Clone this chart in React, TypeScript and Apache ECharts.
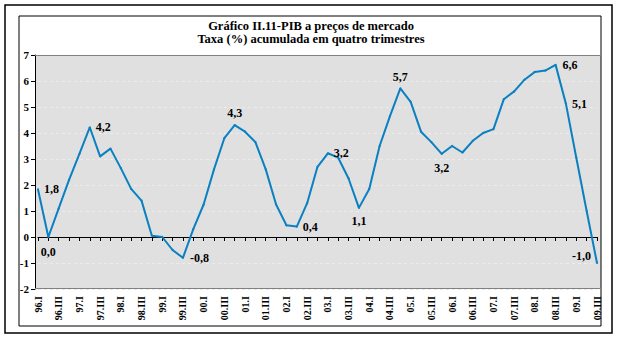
import React, { useEffect, useRef } from "react";
import * as echarts from "echarts";

const years = ["96", "97", "98", "99", "00", "01", "02", "03", "04", "05", "06", "07", "08", "09"];
const quarters = ["I", "II", "III", "IV"];
const categories: string[] = years.flatMap((y) => quarters.map((q) => `${y}.${q}`)).slice(0, 55);

// PIB growth, % accumulated over four quarters
const growth = [
  1.83, 0.0, 1.1, 2.2, 3.2, 4.22, 3.1, 3.4, 2.65, 1.85, 1.4, 0.05, 0.0, -0.5, -0.8,
  0.3, 1.25, 2.6, 3.8, 4.3, 4.05, 3.65, 2.6, 1.25, 0.45, 0.4, 1.3, 2.7, 3.22, 3.05,
  2.25, 1.12, 1.85, 3.5, 4.65, 5.72, 5.2, 4.05, 3.65, 3.2, 3.5, 3.25, 3.7, 4.0, 4.15,
  5.3, 5.6, 6.05, 6.35, 6.4, 6.62, 5.12, 3.05, 1.0, -1.0,
];

const labeledPoints = [0, 1, 5, 14, 19, 25, 28, 31, 35, 39, 50, 51, 54];

const yTicks = { min: -2, max: 7, interval: 1 };

const FONT = '"Liberation Serif", "Times New Roman", serif';
const LINE_COLOR = "#0a80c2";

const labelPlacement: Record<number, any> = {
  0: { position: "right", distance: 5 },
  1: { position: "bottom", distance: 8 },
  5: { position: "right", distance: 5 },
  14: { position: "right", distance: 6 },
  19: { position: "top", distance: 5 },
  25: { position: "right", distance: 5 },
  28: { position: "right", distance: 5 },
  31: { position: "bottom", distance: 6 },
  35: { position: "top", distance: 4 },
  39: { position: "bottom", distance: 7 },
  50: { position: "right", distance: 6 },
  51: { position: "right", distance: 5 },
  54: { position: "left", distance: 5, offset: [0, -7] },
};

export default function App() {
  const ref = useRef<HTMLDivElement>(null);
  useEffect(() => {
    if (!ref.current) return;
    const chart = echarts.init(ref.current, null, { renderer: "svg" });
    const seriesData = growth.map((v, i) => {
      if (labeledPoints.includes(i)) {
        return {
          value: v,
          label: {
            show: true,
            ...labelPlacement[i],
            formatter: (p: any) => Number(p.value).toFixed(1).replace(".", ","),
            fontFamily: FONT,
            fontWeight: "bold",
            fontSize: 12,
            color: "#000",
          },
        };
      }
      return v;
    });
    chart.setOption({
      animation: false,
      backgroundColor: "#fff",
      title: {
        text: "Gráfico II.11-PIB a preços de mercado\nTaxa (%) acumulada em quatro trimestres",
        left: 311,
        textAlign: "center",
        top: 19,
        padding: 0,
        textStyle: {
          fontFamily: FONT,
          fontWeight: "bold",
          fontSize: 12.5,
          lineHeight: 13,
          color: "#000",
        },
      },
      grid: {
        left: 38,
        right: 22,
        top: 55,
        bottom: 49,
        show: false,
      },
      xAxis: [
        {
          type: "category",
          data: categories,
          boundaryGap: false,
          position: "bottom",
          axisLine: { show: false, onZero: false },
          axisTick: { show: false },
          axisLabel: {
            interval: 1,
            rotate: 90,
            margin: 7,
            fontFamily: FONT,
            fontWeight: "bold",
            fontSize: 10,
            color: "#000",
          },
        },
        {
          type: "category",
          data: categories,
          boundaryGap: false,
          position: "bottom",
          axisLine: { show: true, onZero: true, lineStyle: { color: "#000", width: 1.2 } },
          axisTick: { show: true, interval: 0, length: 4, lineStyle: { color: "#000" } },
          axisLabel: { show: false },
        },
      ],
      yAxis: {
        type: "value",
        min: yTicks.min,
        max: yTicks.max,
        interval: yTicks.interval,
        offset: 3,
        axisLine: { show: true, onZero: false, lineStyle: { color: "#000" } },
        axisTick: { show: true, length: 4, lineStyle: { color: "#000" } },
        axisLabel: {
          margin: 6,
          fontFamily: FONT,
          fontWeight: "bold",
          fontSize: 11,
          color: "#000",
        },
        splitLine: { show: true, lineStyle: { color: "#ececec", type: [3, 3], width: 1 } },
      },
      series: [
        {
          type: "line",
          xAxisIndex: 0,
          data: seriesData,
          symbol: "circle",
          symbolSize: 2,
          showSymbol: true,
          lineStyle: { color: LINE_COLOR, width: 2 },
          itemStyle: { color: LINE_COLOR },
          z: 5,
        },
      ],
      graphic: [
        {
          type: "rect",
          z: -10,
          shape: { x: 35, y: 55, width: 566, height: 234 },
          style: { fill: "#e0e0e0", stroke: "none" },
          silent: true,
        },
        {
          type: "line",
          z: 1,
          shape: { x1: 35, y1: 55.5, x2: 601, y2: 55.5 },
          style: { stroke: "#808080", lineWidth: 1 },
          silent: true,
        },
        {
          type: "line",
          z: 1,
          shape: { x1: 35, y1: 288.5, x2: 601, y2: 288.5 },
          style: { stroke: "#808080", lineWidth: 1 },
          silent: true,
        },
        {
          type: "rect",
          shape: { x: 5, y: 5, width: 607, height: 328 },
          style: { fill: "none", stroke: "#000", lineWidth: 1.5 },
          silent: true,
        },
        {
          type: "rect",
          shape: { x: 19, y: 16, width: 582, height: 310 },
          style: { fill: "none", stroke: "#000", lineWidth: 1 },
          silent: true,
        },
      ],
    });
    return () => chart.dispose();
  }, []);
  return (
    <div
      ref={ref}
      style={{ position: "fixed", left: 0, top: 0, width: 619, height: 338, background: "#fff" }}
    />
  );
}
